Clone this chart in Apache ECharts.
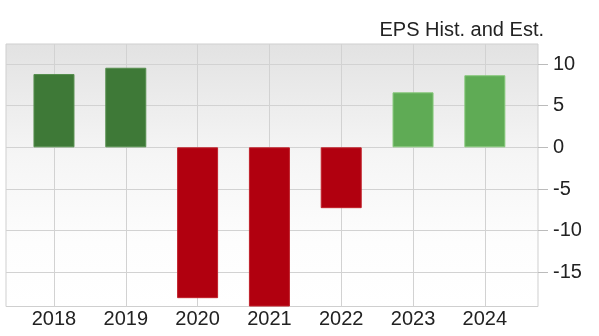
<!DOCTYPE html>
<html>
<head>
<meta charset="utf-8">
<script src="https://cdn.jsdelivr.net/npm/echarts@6/dist/echarts.min.js"></script>
<style>
  html, body { margin: 0; padding: 0; background: #fff; }
  #eps { width: 599px; height: 336px; }
</style>
</head>
<body>
<div id="eps"></div>
<script>
// EPS per year
var years = [2018, 2019, 2020, 2021, 2022, 2023, 2024];
var eps = [8.8, 9.55, -18.1, -19.1, -7.3, 6.6, 8.65];
var firstEstimate = 2023; // from here on the bars are estimates
var yTicks = [-15, -10, -5, 0, 5, 10];

var chart = echarts.init(document.getElementById("eps"));

// dark green = actual, light green = estimate, red = loss
var barData = years.map(function (y, i) {
  var c = eps[i] < 0 ? "#b1000f" : (y >= firstEstimate ? "#5fab55" : "#3e7937");
  var b = eps[i] < 0 ? "#c0202a" : (y >= firstEstimate ? "#86c87a" : "#568f4e");
  return {
    value: [y, eps[i]],
    itemStyle: { color: c, borderColor: b, borderWidth: 1 }
  };
});

chart.setOption({
  animation: false,
  title: {
    text: "EPS Hist. and Est.",
    right: 50,
    top: 15,
    textStyle: {
      fontFamily: "Liberation Sans",
      fontSize: 20,
      fontWeight: "normal",
      color: "#222"
    }
  },
  grid: {
    left: 6,
    right: 61,
    top: 44,
    bottom: 29.5,
    show: true,
    borderColor: "#cfcfcf",
    borderWidth: 1,
    backgroundColor: {
      type: "linear", x: 0, y: 0, x2: 0, y2: 1,
      colorStops: [
        { offset: 0, color: "#e2e2e2" },
        { offset: 0.42, color: "#f5f5f5" },
        { offset: 0.75, color: "#fdfdfd" },
        { offset: 1, color: "#ffffff" }
      ]
    }
  },
  xAxis: {
    type: "value",
    min: 2017.332,
    max: 2024.74,
    axisLine: { show: false },
    axisTick: { show: false, customValues: years },
    axisLabel: {
      customValues: years,
      margin: 3,
      fontFamily: "Liberation Sans",
      fontSize: 20,
      color: "#222",
      formatter: function (v) { return String(v); }
    },
    splitLine: { show: true, lineStyle: { color: "#d2d2d2", width: 1 } }
  },
  yAxis: {
    type: "value",
    position: "right",
    min: -19.1,
    max: 12.4,
    axisLine: { show: false },
    axisTick: {
      show: true,
      length: 10,
      customValues: yTicks,
      lineStyle: { color: "#bbbbbb" }
    },
    axisLabel: {
      customValues: yTicks,
      margin: 15,
      fontFamily: "Liberation Sans",
      fontSize: 20,
      color: "#222"
    },
    splitLine: { show: true, lineStyle: { color: "#d2d2d2", width: 1 } }
  },
  series: [
    {
      name: "EPS",
      type: "bar",
      barWidth: 41,
      data: barData
    }
  ]
});
</script>
</body>
</html>
